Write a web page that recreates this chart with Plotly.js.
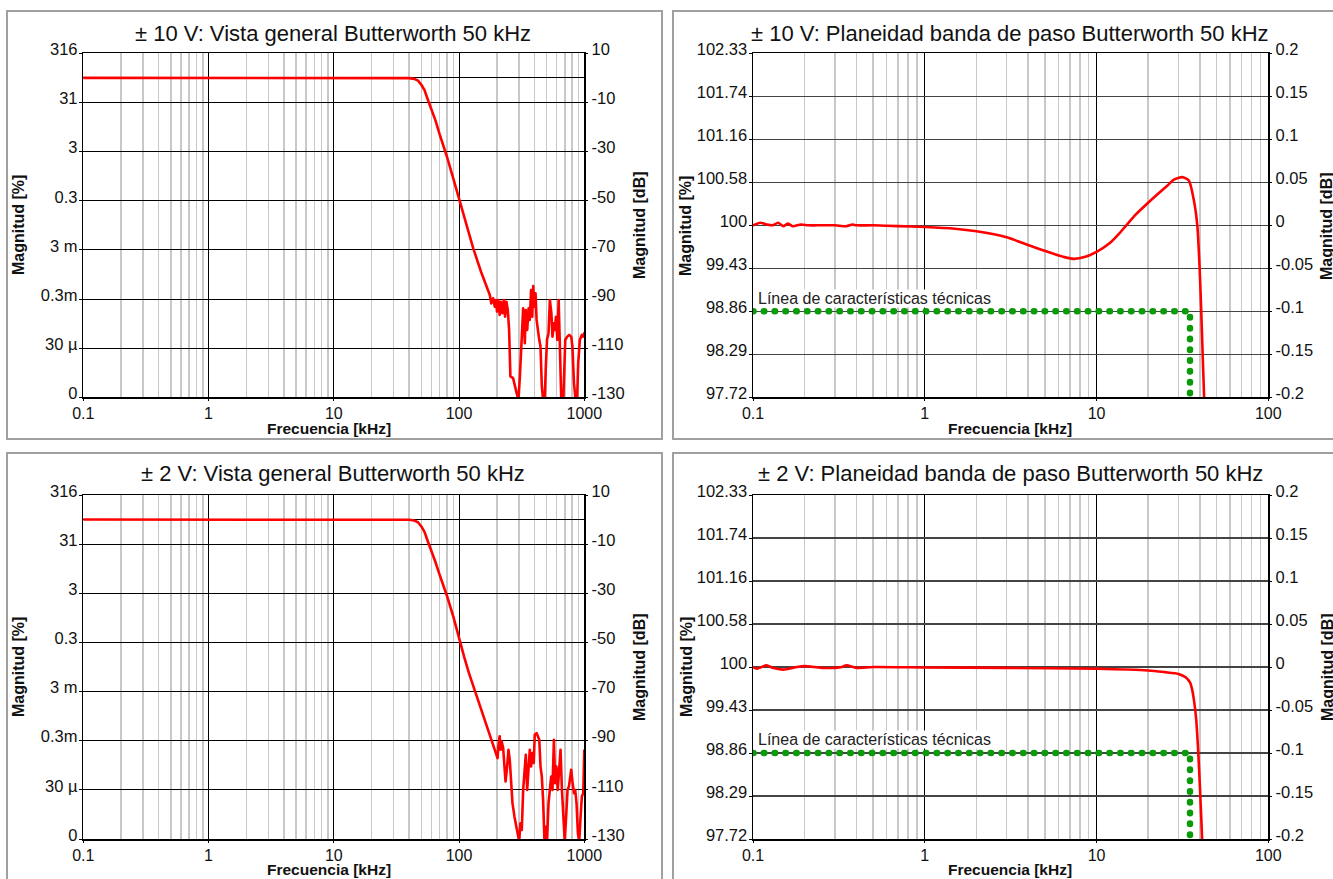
<!DOCTYPE html>
<html><head><meta charset="utf-8">
<script src="https://cdn.plot.ly/plotly-3.0.1.min.js"></script>
<style>
html,body{margin:0;padding:0;background:#fff;}
#chart{width:1333px;height:879px;}
path.js-line{stroke-linecap:round;stroke-linejoin:round;}
</style></head><body><div id="chart"></div>
<script>
// ---------- data ----------
// Panel 1: ±10 V overview (frequency kHz, magnitude dB)
const f10Overview = [0.1, 1, 10, 30, 40, 44, 47, 50, 53, 56, 60, 65, 70, 80, 90, 100, 110, 120, 130, 150, 165, 176, 181, 187, 193, 197, 201, 206, 211, 216, 222, 228, 233, 239, 245, 251, 257, 270, 288, 298, 306, 315, 325, 335, 341, 350, 359, 367, 376, 384, 391, 400, 408, 416, 426, 437, 447, 458, 469, 483, 493, 504, 518, 531, 546, 557, 572, 582, 594, 609, 624, 638, 655, 680, 705, 731, 758, 786, 804, 827, 852, 876, 894, 921, 956, 981, 1000];
const db10Overview = [0, 0, 0, 0, -0.1, -0.4, -1.1, -2.8, -5, -8.5, -12.5, -17.5, -23, -32, -41, -49, -56, -63, -69.5, -79, -85, -88.4, -91.8, -89.7, -93.1, -90.4, -95.1, -90.4, -96.5, -91.1, -95.8, -90.4, -97.2, -91.1, -94.5, -102.6, -121.5, -122.2, -128.2, -131, -121.5, -108, -93.8, -108, -94.5, -102.6, -93.8, -98.5, -86.4, -97.2, -84.7, -93.1, -87.7, -98.5, -103.9, -106.6, -109.3, -125.5, -131, -131, -117.4, -106.6, -103.9, -90.4, -95.8, -105.3, -99.9, -102.6, -97.2, -106.6, -90.4, -110.7, -131, -131, -106.6, -105.3, -104.6, -105.3, -109.3, -124.2, -131, -131, -116.1, -106.6, -104.6, -105.3, -103.9];

// Panel 2: ±10 V passband flatness
const f10Flat = [0.1, 0.11, 0.12, 0.13, 0.14, 0.15, 0.16, 0.17, 0.19, 0.21, 0.25, 0.3, 0.35, 0.38, 0.4, 0.5, 0.7, 1, 1.5, 2, 3, 4, 5.4, 6.5, 7.4, 8.5, 10, 11.9, 13.5, 14.9, 17, 19.9, 22.3, 25.8, 28.2, 31.6, 34.5, 36.8, 38.6, 39.8, 40.7, 41.8, 42.3, 43];
const db10Flat = [0, 0.003, 0.001, 0, 0.003, -0.001, 0.002, -0.001, 0.001, 0, 0, 0, -0.001, 0.001, 0, 0, -0.001, -0.002, -0.004, -0.007, -0.014, -0.023, -0.032, -0.037, -0.039, -0.037, -0.031, -0.021, -0.01, 0, 0.013, 0.026, 0.035, 0.046, 0.053, 0.056, 0.052, 0.03, 0, -0.048, -0.1, -0.17, -0.2, -0.25];

// Panel 3: ±2 V overview
const f2Overview = [0.1, 1, 10, 30, 40, 44, 47, 50, 53, 56, 60, 65, 70, 80, 90, 100, 110, 120, 133, 150, 170, 187, 197, 203, 206, 211, 215, 219, 225, 230, 235, 242, 248, 254, 260, 267, 277, 287, 302, 309, 317, 325, 333, 341, 350, 359, 367, 376, 385, 395, 402, 416, 426, 437, 447, 458, 469, 481, 493, 504, 518, 531, 544, 557, 572, 585, 599, 614, 630, 646, 663, 680, 698, 716, 735, 754, 767, 786, 804, 827, 846, 867, 889, 911, 934, 956, 981, 995, 1000];
const db2Overview = [0, 0, 0, 0, -0.1, -0.4, -1.1, -2.8, -5, -8.5, -12.5, -17.5, -22.5, -31, -39.5, -48.5, -56, -62.5, -69.2, -77.5, -85.5, -92.3, -95.7, -97.1, -92.3, -88.2, -93.7, -90.3, -93, -100.5, -106.6, -100.5, -93.7, -97.8, -108.6, -115.4, -120.9, -125, -131, -123.6, -126.3, -110, -101.8, -95.7, -110, -97.8, -93.7, -100.5, -95, -99.1, -87.6, -86.9, -88.2, -89.6, -100.5, -104.6, -114.1, -131, -125, -131, -115.4, -110, -104.6, -110, -89.6, -107.3, -100.5, -110, -100.5, -93.7, -110, -119.5, -131, -120.9, -110, -108.6, -105.9, -101.8, -106.6, -111.4, -110, -115.4, -127.7, -131, -120.9, -112.7, -111.4, -103, -94];

// Panel 4: ±2 V passband flatness
const f2Flat = [0.1, 0.105, 0.12, 0.13, 0.15, 0.18, 0.2, 0.25, 0.3, 0.33, 0.35, 0.4, 0.5, 1, 3, 10, 20, 25, 30, 33, 35, 36, 37, 38, 39, 40, 41, 42];
const db2Flat = [0, -0.002, 0.002, -0.001, -0.003, 0, 0.001, -0.001, -0.001, 0, 0.002, -0.001, 0, -0.0005, -0.001, -0.002, -0.004, -0.006, -0.008, -0.012, -0.018, -0.026, -0.04, -0.06, -0.095, -0.14, -0.19, -0.24];

// Specification line (technical characteristics): flat to 35 kHz at -0.1 dB
const specF = [0.1, 35, 35];
const specDb = [-0.1, -0.1, -0.2];

// Tick values / labels
const ovDbTicks = [10, -10, -30, -50, -70, -90, -110, -130];
const ovPctLabels = ['316', '31', '3', '0.3', '3 m', '0.3m', '30 µ', '0'];
const ovDbLabels = ['10', '-10', '-30', '-50', '-70', '-90', '-110', '-130'];
const flDbTicks = [0.2, 0.15, 0.1, 0.05, 0, -0.05, -0.1, -0.15, -0.2];
const flPctLabels = ['102.33', '101.74', '101.16', '100.58', '100', '99.43', '98.86', '98.29', '97.72'];
const flDbLabels = ['0.2', '0.15', '0.1', '0.05', '0', '-0.05', '-0.1', '-0.15', '-0.2'];
const ovFreqTicks = [0.1, 1, 10, 100, 1000];
const ovFreqLabels = ['0.1', '1', '10', '100', '1000'];
const flFreqTicks = [0.1, 1, 10, 100];
const flFreqLabels = ['0.1', '1', '10', '100'];

const titles = [
  '± 10 V: Vista general Butterworth 50 kHz',
  '± 10 V: Planeidad banda de paso Butterworth 50 kHz',
  '± 2 V: Vista general Butterworth 50 kHz',
  '± 2 V: Planeidad banda de paso Butterworth 50 kHz'
];
const xTitle = 'Frecuencia [kHz]';
const yTitleL = 'Magnitud [%]';
const yTitleR = 'Magnitud [dB]';
const specLabel = 'Línea de características técnicas';

// ---------- layout helpers ----------
const W = 1333, H = 879;
const px = v => v / W;
const py = v => 1 - v / H;
const FONT = '"Liberation Sans", Arial, Helvetica, sans-serif';

function minorVals(d0, d1) {
  const out = [];
  for (let d = d0; d < d1; d++) for (let k = 2; k <= 9; k++) out.push(k * Math.pow(10, d));
  return out;
}

const tickFont = {family: FONT, size: 16.5, color: '#111'};
const xTickFont = {family: FONT, size: 16, color: '#111'};

function xAxis(x0, x1, anchor, logRange, tv, tt) {
  return {
    type: 'log', domain: [px(x0), px(x1)], anchor: anchor, range: logRange,
    tickmode: 'array', tickvals: tv, ticktext: tt,
    showgrid: true, gridcolor: '#000', gridwidth: 1,
    showline: true, mirror: true, linecolor: '#000', linewidth: 1.5,
    ticks: 'outside', ticklen: 2, tickcolor: '#000', tickfont: xTickFont,
    ticklabelstandoff: -1,
    zeroline: false, fixedrange: true,
    minor: {tickmode: 'array', tickvals: minorVals(logRange[0], logRange[1]),
            showgrid: true, gridcolor: '#c8c8c8', gridwidth: 1.5, ticks: ''}
  };
}
function yAxisL(y0, y1, anchor, range, tv, tt, gridcolor, gridwidth, zeroline) {
  return {
    domain: [py(y1), py(y0)], anchor: anchor, range: range,
    tickmode: 'array', tickvals: tv, ticktext: tt,
    showgrid: true, gridcolor: gridcolor, gridwidth: gridwidth,
    showline: true, mirror: true, linecolor: '#000', linewidth: 1.5,
    ticks: 'outside', ticklen: 3, tickcolor: '#000', tickfont: tickFont,
    ticklabelshift: -4, ticklabelstandoff: -2,
    zeroline: zeroline, zerolinecolor: '#000', zerolinewidth: 1, fixedrange: true
  };
}
function yAxisR(over, anchor, range, tv, tt) {
  return {
    overlaying: over, side: 'right', anchor: anchor, range: range,
    tickmode: 'array', tickvals: tv, ticktext: tt,
    showgrid: false, showline: false, zeroline: false,
    ticks: 'outside', ticklen: 3, tickcolor: '#000', tickfont: tickFont,
    ticklabelshift: -4, fixedrange: true
  };
}

// pixel geometry of the four plot areas
const L1 = 83.3, R1 = 584.3, L2 = 753, R2 = 1268.3;
const T1 = 53.3, B1 = 397.3, T2 = 495, B2 = 839;

const red = {color: '#ff0000', width: 2.6};
const green = {color: '#0a9a0a', width: 6.5, dash: '0.5px,10.3px'};
const ghost = {color: 'rgba(0,0,0,0)', width: 0};

const traces = [
  {x: f10Overview, y: db10Overview, xaxis: 'x', yaxis: 'y', mode: 'lines', line: red},
  {x: f10Overview, y: db10Overview, xaxis: 'x', yaxis: 'y2', mode: 'lines', line: ghost},
  {x: specF, y: specDb, xaxis: 'x2', yaxis: 'y3', mode: 'lines', line: green},
  {x: f10Flat, y: db10Flat, xaxis: 'x2', yaxis: 'y3', mode: 'lines', line: Object.assign({shape: 'spline', smoothing: 0.6}, red)},
  {x: f10Flat, y: db10Flat, xaxis: 'x2', yaxis: 'y4', mode: 'lines', line: ghost},
  {x: f2Overview, y: db2Overview, xaxis: 'x3', yaxis: 'y5', mode: 'lines', line: red},
  {x: f2Overview, y: db2Overview, xaxis: 'x3', yaxis: 'y6', mode: 'lines', line: ghost},
  {x: specF, y: specDb, xaxis: 'x4', yaxis: 'y7', mode: 'lines', line: green},
  {x: f2Flat, y: db2Flat, xaxis: 'x4', yaxis: 'y7', mode: 'lines', line: Object.assign({shape: 'spline', smoothing: 0.6}, red)},
  {x: f2Flat, y: db2Flat, xaxis: 'x4', yaxis: 'y8', mode: 'lines', line: ghost}
];

function ann(text, x, y, size, opts) {
  return Object.assign({
    text: text, x: px(x), y: py(y), xref: 'paper', yref: 'paper',
    xanchor: 'center', yanchor: 'middle', showarrow: false,
    font: {family: FONT, size: size, color: '#111'}
  }, opts || {});
}
const bold = (t) => '<b>' + t + '</b>';
const TS = 22, AS = 16, XS = 15.5;

const annotations = [
  ann(titles[0], 333, 33, TS),
  ann(titles[1], 1010, 33, TS),
  ann(titles[2], 333, 473, TS),
  ann(titles[3], 1010, 473, TS),
  ann(bold(xTitle), 329, 428, XS),
  ann(bold(xTitle), 1010, 428, XS),
  ann(bold(xTitle), 329, 869, XS),
  ann(bold(xTitle), 1010, 869, XS),
  ann(bold(yTitleL), 18, 225, AS, {textangle: -90}),
  ann(bold(yTitleL), 686, 226, AS, {textangle: -90}),
  ann(bold(yTitleL), 18, 667, AS, {textangle: -90}),
  ann(bold(yTitleL), 686, 667, AS, {textangle: -90}),
  ann(bold(yTitleR), 639, 225, AS, {textangle: -90}),
  ann(bold(yTitleR), 1327, 226, AS, {textangle: -90}),
  ann(bold(yTitleR), 639, 667, AS, {textangle: -90}),
  ann(bold(yTitleR), 1327, 667, AS, {textangle: -90}),
  ann(specLabel, 757, 298, 16, {xanchor: 'left', bgcolor: '#fff', borderpad: 0, font: {family: FONT, size: 16, color: '#222'}}),
  ann(specLabel, 757, 739, 16, {xanchor: 'left', bgcolor: '#fff', borderpad: 0, font: {family: FONT, size: 16, color: '#222'}})
];

function frame(x0, y0, x1, y1) {
  return {type: 'rect', xref: 'paper', yref: 'paper', x0: px(x0), x1: px(x1), y0: py(y1), y1: py(y0),
          line: {color: '#a0a0a0', width: 2}, fillcolor: 'rgba(0,0,0,0)', layer: 'below'};
}

const layout = {
  width: W, height: H, margin: {l: 0, r: 0, t: 0, b: 0},
  paper_bgcolor: '#fff', plot_bgcolor: '#fff', showlegend: false, hovermode: false,
  font: {family: FONT, color: '#111'},
  xaxis: xAxis(L1, R1, 'y', [-1, 3], ovFreqTicks, ovFreqLabels),
  yaxis: yAxisL(T1, B1, 'x', [-130, 10], ovDbTicks, ovPctLabels, '#000', 1, true),
  yaxis2: yAxisR('y', 'x', [-130, 10], ovDbTicks, ovDbLabels),
  xaxis2: xAxis(L2, R2, 'y3', [-1, 2], flFreqTicks, flFreqLabels),
  yaxis3: yAxisL(T1, B1, 'x2', [-0.2, 0.2], flDbTicks, flPctLabels, '#444', 1.5, false),
  yaxis4: yAxisR('y3', 'x2', [-0.2, 0.2], flDbTicks, flDbLabels),
  xaxis3: xAxis(L1, R1, 'y5', [-1, 3], ovFreqTicks, ovFreqLabels),
  yaxis5: yAxisL(T2, B2, 'x3', [-130, 10], ovDbTicks, ovPctLabels, '#000', 1, true),
  yaxis6: yAxisR('y5', 'x3', [-130, 10], ovDbTicks, ovDbLabels),
  xaxis4: xAxis(L2, R2, 'y7', [-1, 2], flFreqTicks, flFreqLabels),
  yaxis7: yAxisL(T2, B2, 'x4', [-0.2, 0.2], flDbTicks, flPctLabels, '#444', 1.5, false),
  yaxis8: yAxisR('y7', 'x4', [-0.2, 0.2], flDbTicks, flDbLabels),
  annotations: annotations,
  shapes: [frame(7, 11, 662, 439), frame(673, 11, 1345, 439), frame(7, 453, 662, 895), frame(673, 453, 1345, 895)]
};

Plotly.newPlot('chart', traces, layout, {staticPlot: true, displayModeBar: false});
</script></body></html>
